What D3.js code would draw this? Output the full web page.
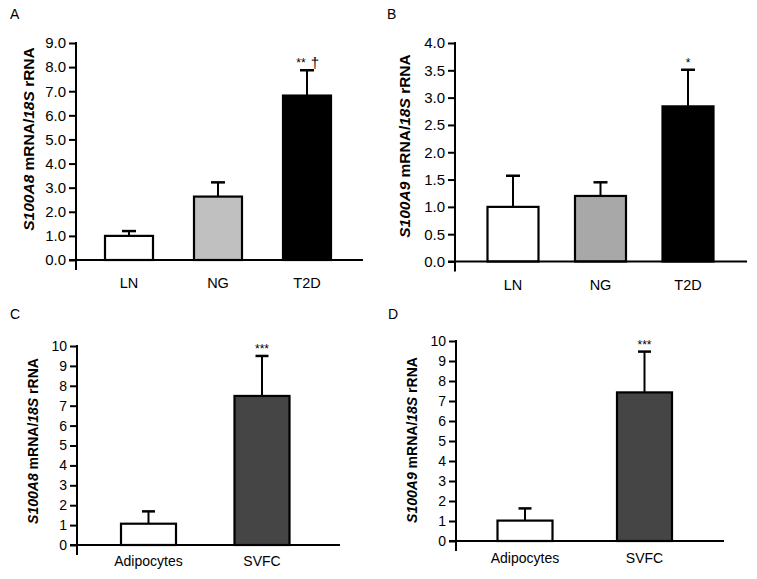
<!DOCTYPE html>
<html><head><meta charset="utf-8">
<script src="https://cdn.jsdelivr.net/npm/d3@7"></script>
<style>body{margin:0;background:#fff} text{font-family:"Liberation Sans",Arial,sans-serif;fill:#000}</style>
</head><body>
<svg id="c" width="757" height="579"></svg>
<script>
// ---- data ----
const groups = ["LN", "NG", "T2D"];
const s100a8Groups = [1.0, 2.63, 6.82];
const s100a8GroupsErr = [0.2, 0.59, 1.05];
const s100a8GroupsSig = ["", "", "**"];
const s100a9Groups = [1.0, 1.2, 2.84];
const s100a9GroupsErr = [0.57, 0.25, 0.67];
const s100a9GroupsSig = ["", "", "*"];
const cellTypes = ["Adipocytes", "SVFC"];
const s100a8Cells = [1.07, 7.49];
const s100a8CellsErr = [0.62, 2.01];
const s100a9Cells = [1.02, 7.43];
const s100a9CellsErr = [0.61, 2.04];
const cellsSig = ["", "***"];
const ticksA = [0, 1, 2, 3, 4, 5, 6, 7, 8, 9];
const ticksB = [0, 0.5, 1, 1.5, 2, 2.5, 3, 3.5, 4];
const ticksCD = [0, 1, 2, 3, 4, 5, 6, 7, 8, 9, 10];
const panelLetters = ["A", "B", "C", "D"];

const svg = d3.select("#c");

function panel(o) {
  const g = svg.append("g");
  const y = d3.scaleLinear().domain([0, o.max]).range([o.bottom, o.top]);
  const x = d3.scalePoint().domain(o.cats).range(o.xr);

  g.append("text").attr("x", o.letterX).attr("y", o.letterY).attr("font-size", 14).text(o.letter);

  const ax = g.append("g").attr("transform", `translate(${o.left},0)`)
    .call(d3.axisLeft(y).tickValues(o.ticks).tickSize(7).tickPadding(3).tickSizeOuter(0)
      .tickFormat(d3.format(o.fmt)));
  ax.select(".domain").remove();
  ax.selectAll(".tick line").attr("stroke", "#000").attr("stroke-width", 2);
  ax.selectAll(".tick text").attr("font-size", o.tickFont).attr("fill", "#000")
    .style("font-family", '"Liberation Sans",Arial,sans-serif');
  g.append("line").attr("x1", o.left).attr("x2", o.left).attr("y1", o.top - 1).attr("y2", o.bottom + 10)
    .attr("stroke", "#000").attr("stroke-width", 2);

  const data = o.cats.map((c, i) => ({c, v: o.vals[i], e: o.errs[i], col: o.colors[i], s: o.sig[i]}));

  data.forEach(d => {
    const cx = x(d.c);
    g.append("line").attr("x1", cx).attr("x2", cx).attr("y1", y(d.v)).attr("y2", y(d.v + d.e))
      .attr("stroke", "#000").attr("stroke-width", 2);
    g.append("line").attr("x1", cx - o.cap / 2).attr("x2", cx + o.cap / 2)
      .attr("y1", y(d.v + d.e)).attr("y2", y(d.v + d.e)).attr("stroke", "#000").attr("stroke-width", 2.5);
  });
  g.selectAll("rect.bar").data(data).enter().append("rect")
    .attr("x", d => x(d.c) - o.barW / 2).attr("width", o.barW)
    .attr("y", d => y(d.v)).attr("height", d => y(0) - y(d.v))
    .attr("fill", d => d.col).attr("stroke", "#000").attr("stroke-width", 2.2);
  g.append("line").attr("x1", o.left - 7).attr("x2", o.right).attr("y1", o.bottom).attr("y2", o.bottom)
    .attr("stroke", "#000").attr("stroke-width", 2);

  g.selectAll("text.cat").data(data).enter().append("text")
    .attr("x", d => x(d.c)).attr("y", o.labelY).attr("text-anchor", "middle")
    .attr("font-size", o.catFont).text(d => d.c);

  data.forEach(d => {
    if (!d.s) return;
    g.append("text").attr("x", x(d.c) + o.sigDx).attr("y", y(d.v + d.e) - o.sigDy)
      .attr("text-anchor", "middle").attr("font-size", 12).text(d.s);
    if (o.dagger) {
      g.append("text").attr("x", x(d.c) + 8).attr("y", y(d.v + d.e) - 2)
        .attr("text-anchor", "middle").attr("font-size", 15).attr("fill", "#000").text("\u2020");
    }
  });

  const t = g.append("text").attr("transform", `translate(${o.ylabX},${o.ylabY}) rotate(-90)`)
    .attr("text-anchor", "middle").attr("font-size", o.ylabFont).attr("font-weight", "bold");
  t.append("tspan").attr("font-style", "italic").text(o.gene);
  t.append("tspan").text(" mRNA/");
  t.append("tspan").attr("font-style", "italic").text("18S");
  t.append("tspan").text(" rRNA");
}

panel({letter: panelLetters[0], letterX: 10, letterY: 19, cats: groups, vals: s100a8Groups, errs: s100a8GroupsErr,
  sig: s100a8GroupsSig, dagger: true, sigDx: -6, sigDy: 3,
  colors: ["#ffffff", "#c0c0c0", "#000000"], max: 9, ticks: ticksA, fmt: ".1f",
  left: 76, top: 43, bottom: 260, right: 363, xr: [129, 307], barW: 48, cap: 14,
  labelY: 288, catFont: 14.5, tickFont: 15, ylabX: 34, ylabY: 139, ylabFont: 15.5, gene: "S100A8"});
panel({letter: panelLetters[1], letterX: 387, letterY: 19, cats: groups, vals: s100a9Groups, errs: s100a9GroupsErr,
  sig: s100a9GroupsSig, dagger: false, sigDx: 0, sigDy: 3,
  colors: ["#ffffff", "#a8a8a8", "#000000"], max: 4, ticks: ticksB, fmt: ".1f",
  left: 455, top: 43, bottom: 261.5, right: 747, xr: [513, 688], barW: 51, cap: 14,
  labelY: 290, catFont: 14.5, tickFont: 15, ylabX: 410, ylabY: 146, ylabFont: 15.5, gene: "S100A9"});
panel({letter: panelLetters[2], letterX: 10, letterY: 319, cats: cellTypes, vals: s100a8Cells, errs: s100a8CellsErr,
  sig: cellsSig, dagger: false, sigDx: 0, sigDy: 3,
  colors: ["#ffffff", "#454545"], max: 10, ticks: ticksCD, fmt: "d",
  left: 77, top: 346, bottom: 545, right: 340, xr: [148.5, 262], barW: 55, cap: 13,
  labelY: 566, catFont: 14, tickFont: 14, ylabX: 38, ylabY: 441, ylabFont: 14, gene: "S100A8"});
panel({letter: panelLetters[3], letterX: 388, letterY: 319, cats: cellTypes, vals: s100a9Cells, errs: s100a9CellsErr,
  sig: cellsSig, dagger: false, sigDx: 0, sigDy: 3,
  colors: ["#ffffff", "#454545"], max: 10, ticks: ticksCD, fmt: "d",
  left: 456, top: 341, bottom: 541, right: 724, xr: [525, 644.5], barW: 55, cap: 13,
  labelY: 563, catFont: 14, tickFont: 14, ylabX: 417, ylabY: 440, ylabFont: 14, gene: "S100A9"});
</script>
</body></html>
